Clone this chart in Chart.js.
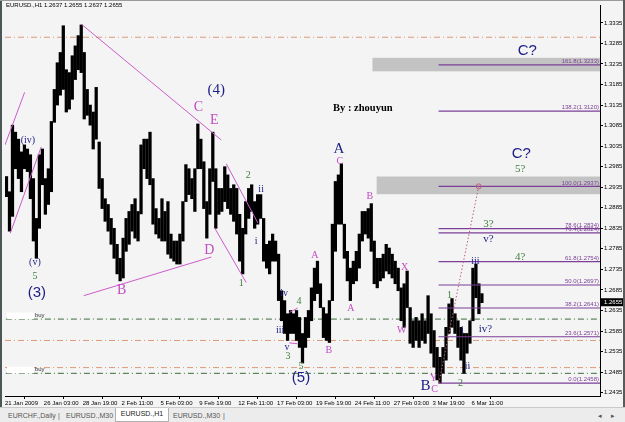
<!DOCTYPE html>
<html><head><meta charset="utf-8">
<script src="https://cdn.jsdelivr.net/npm/chart.js@4.4.1/dist/chart.umd.min.js"></script>
<style>
html,body{margin:0;padding:0;background:#f4f4f4;}
#wrap{position:relative;width:625px;height:422px;overflow:hidden;background:#f4f4f4;}
#c{position:absolute;left:0;top:0;}
#tabs{position:absolute;left:0;top:407px;width:625px;height:15px;background:#ececec;border-top:1px solid #c9c9c9;font:7px "Liberation Sans",Arial,sans-serif;color:#555;}
.tab{position:absolute;top:3px;line-height:10px;white-space:nowrap;}
.act{position:absolute;top:0px;left:115px;width:52px;height:13px;background:#fff;border:1px solid #b0b0b0;border-top:none;text-align:center;line-height:12px;color:#222;}
</style></head>
<body>
<div id="wrap">
<canvas id="c" width="625" height="422"></canvas>
<div id="tabs">
  <span class="tab" style="left:8px">EURCHF.,Daily</span>
  <span class="tab" style="left:58px">|</span>
  <span class="tab" style="left:66px">EURUSD.,M30</span>
  <span class="act">EURUSD.,H1</span>
  <span class="tab" style="left:173px">EURUSD.,M30</span>
  <span class="tab" style="left:223px">|</span>
  <span class="tab" style="left:598px">&#9666;</span>
  <span class="tab" style="left:611px">&#9656;</span>
</div>
</div>
<script>
// ---- data: H1 bars compressed into slots (high / low per slot) ----
const highs = [
1.2961,1.2924,1.3086,1.3069,1.3052,1.3021,1.3038,1.3028,1.3014,1.2956,
1.2859,1.3014,1.3028,1.2956,1.2980,1.3095,1.3173,1.3238,1.3263,1.3328,
1.3221,1.3214,1.3255,1.3279,1.3304,1.3330,1.3263,1.3173,1.3135,1.3118,
1.3178,1.3045,1.2956,1.2907,1.2893,1.2859,1.2835,1.2796,1.2762,1.2811,
1.2859,1.2876,1.2893,1.2907,1.2876,1.3038,1.3052,1.3052,1.3069,1.2956,
1.2883,1.2859,1.2907,1.2876,1.2900,1.2821,1.2804,1.2804,1.2821,1.2900,
1.2990,1.2980,1.2956,1.2980,1.3089,1.3052,1.2997,1.2900,1.2980,1.3069,
1.2980,1.2932,1.2932,1.2985,1.2965,1.2932,1.2941,1.2932,1.2869,1.2835,
1.2900,1.2932,1.2941,1.2900,1.2917,1.2917,1.2859,1.2796,1.2804,1.2821,
1.2804,1.2772,1.2683,1.2659,1.2627,1.2635,1.2627,1.2635,1.2618,1.2579,
1.2618,1.2635,1.2690,1.2738,1.2755,1.2700,1.2642,1.2627,1.2659,1.2845,
1.2949,1.2965,1.2992,1.2845,1.2779,1.2738,1.2755,1.2779,1.2821,1.2876,
1.2876,1.2883,1.2895,1.2804,1.2762,1.2762,1.2772,1.2796,1.2787,1.2772,
1.2755,1.2738,1.2690,1.2700,1.2731,1.2642,1.2610,1.2618,1.2610,1.2627,
1.2610,1.2671,1.2627,1.2586,1.2545,1.2521,1.2545,1.2594,1.2651,1.2664,
1.2627,1.2610,1.2594,1.2579,1.2579,1.2610,1.2738,1.2748,1.2700,1.2676];
const lows = [
1.2912,1.2828,1.2864,1.2980,1.2956,1.2924,1.2980,1.2973,1.2907,1.2804,
1.2762,1.2835,1.2941,1.2869,1.2893,1.2924,1.3093,1.3135,1.3159,1.3173,
1.3118,1.3125,1.3149,1.3197,1.3221,1.3214,1.3101,1.3110,1.3086,1.3028,
1.3052,1.2932,1.2883,1.2852,1.2828,1.2796,1.2762,1.2724,1.2707,1.2714,
1.2779,1.2796,1.2828,1.2811,1.2804,1.2870,1.2980,1.2956,1.2941,1.2845,
1.2821,1.2811,1.2804,1.2804,1.2772,1.2762,1.2755,1.2748,1.2748,1.2804,
1.2900,1.2917,1.2907,1.2876,1.2980,1.2980,1.2883,1.2811,1.2869,1.2949,
1.2835,1.2869,1.2876,1.2900,1.2883,1.2869,1.2852,1.2821,1.2755,1.2724,
1.2821,1.2859,1.2876,1.2835,1.2845,1.2859,1.2755,1.2738,1.2724,1.2755,
1.2755,1.2659,1.2610,1.2579,1.2562,1.2579,1.2579,1.2562,1.2545,1.2507,
1.2545,1.2569,1.2610,1.2659,1.2676,1.2642,1.2569,1.2562,1.2557,1.2659,
1.2779,1.2845,1.2845,1.2762,1.2707,1.2659,1.2700,1.2707,1.2738,1.2804,
1.2821,1.2811,1.2779,1.2700,1.2690,1.2707,1.2714,1.2731,1.2724,1.2714,
1.2700,1.2683,1.2610,1.2594,1.2642,1.2555,1.2545,1.2562,1.2545,1.2562,
1.2555,1.2579,1.2531,1.2497,1.2466,1.2458,1.2482,1.2514,1.2579,1.2594,
1.2579,1.2545,1.2514,1.2482,1.2531,1.2555,1.2610,1.2666,1.2627,1.2654];

const timeLabels = ["21 Jan 2009","26 Jan 03:00","28 Jan 19:00","2 Feb 11:00","5 Feb 03:00","9 Feb 19:00","12 Feb 11:00","17 Feb 03:00","19 Feb 19:00","24 Feb 11:00","27 Feb 03:00","3 Mar 19:00","6 Mar 11:00"];
const timeSlots = [0,13,26,39,52,65,78,91,104,117,130,143,156];
const priceTicks = [1.2435,1.2485,1.2535,1.2585,1.2635,1.2685,1.2735,1.2785,1.2835,1.2885,1.2935,1.2985,1.3035,1.3085,1.3135,1.3185,1.3235,1.3285,1.3335];
const lastPrice = 1.2655;
const titleText = "EURUSD.,H1 1.2637 1.2655 1.2637 1.2655";

// fibonacci expansion
const fibLevels = [161.8,138.2,100.0,78.6,76.4,61.8,50.0,38.2,23.6,0.0];
const fibPrices = [1.3233,1.3120,1.2937,1.2834,1.2824,1.2754,1.2697,1.2641,1.2571,1.2458];
const fibStart = 145, slotMax = 199;

// horizontal dash-dot levels
const orangeLevels = [1.3300,1.2562,1.2496];
const buyLevels = [1.2614,1.2482];

// grey zones
const zoneFrom = [122.9,124.3];
const zoneTop = [1.3250,1.2961];
const zoneBottom = [1.3217,1.2918];

// trend lines [[slot, price],[slot, price]]
const trendLines = [
 [[25.67,1.3331],[72.33,1.3050]],
 [[26.33,1.2671],[69,1.2765]],
 [[0,1.3038],[6.57,1.3166]],
 [[1.77,1.2823],[12.1,1.3033]],
 [[74,1.2992],[84.57,1.2848]],
 [[70.1,1.2836],[80.67,1.2703]],
 [[95.1,1.2630],[97.9,1.2641]],
 [[95.1,1.2556],[97.9,1.2554]]
];
const targetLine = [[145.1,1.2458],[158.43,1.2937]];

// wave labels [text, slot, price, style]
const waveLabels = [
 ["(iv)",7.67,1.3048,"ns"],["(v)",10,1.2751,"ns"],["5",10,1.2717,"gs"],["(3)",10.67,1.2678,"nb"],
 ["B",39,1.2685,"mb"],["C",64.67,1.3130,"mb"],["E",70,1.3098,"mb"],["(4)",70.67,1.3171,"nbs"],
 ["D",68.33,1.2782,"mb"],["2",81.33,1.2965,"gs"],["ii",85.67,1.2929,"ns"],["i",84,1.2804,"ns"],
 ["1",79,1.2700,"gs"],["iv",93.33,1.2676,"ns"],["4",98.33,1.2656,"gs"],["iii",92,1.2586,"ns"],
 ["v",94.33,1.2545,"ns"],["3",94.67,1.2524,"gs"],["5",99,1.2499,"gs"],["(5)",99,1.2470,"nb"],
 ["A",103.67,1.2770,"ms"],["A",111.67,1.3028,"nbs"],["C",112,1.2999,"ms"],["B",122,1.2912,"ms"],
 ["A",115.67,1.2639,"ms"],["B",108.33,1.2538,"ms"],["X",133.67,1.2741,"ms"],["W",132.67,1.2586,"ms"],
 ["Y",143.33,1.2470,"ms"],["C",143.67,1.2444,"ms"],["B",140.67,1.2451,"nbs"],["1",148.67,1.2671,"gs"],
 ["i",153,1.2586,"ns"],["ii",154.67,1.2499,"ns"],["2",152.33,1.2458,"gs"],["iii",157.33,1.2755,"ns"],
 ["iv?",160.67,1.2589,"nq"],["v?",161.67,1.2808,"nq"],["3?",161.67,1.2845,"gq"],["4?",172.33,1.2765,"gq"],
 ["5?",172.33,1.2978,"gq"],["C?",172.67,1.3016,"nb"],["C?",174.67,1.3267,"nb"],["By : zhouyun",119.67,1.3127,"sig"]
];
const labelStyles = {
 ns:['#1c1c86','10px "Liberation Serif"'],
 nq:['#1c1c86','11px "Liberation Serif"'],
 nb:['#1c1c86','15px "Liberation Sans"'],
 nbs:['#1c1c86','15px "Liberation Serif"'],
 mb:['#c24cc2','14px "Liberation Serif"'],
 ms:['#c24cc2','10px "Liberation Serif"'],
 gs:['#3f7f3f','10px "Liberation Serif"'],
 gq:['#3f7f3f','11px "Liberation Serif"'],
 sig:['#000','bold 10.5px "Liberation Serif"']
};

// ---- datasets ----
const datasets = [];
datasets.push({type:'bar', data: highs.map((h,i)=>({x:i+0.5, y:[lows[i],h]})),
  backgroundColor:'#000', borderWidth:0, barThickness:2.6, grouped:false, order:5});
orangeLevels.forEach(p=>datasets.push({type:'line', data:[{x:0,y:p},{x:slotMax,y:p}],
  borderColor:'#dc9a78', borderWidth:1, borderDash:[6,3,1,3], pointRadius:0, order:7}));
buyLevels.forEach(p=>datasets.push({type:'line', data:[{x:0.3,y:p},{x:slotMax,y:p}],
  borderColor:'#3c6b3c', borderWidth:1, borderDash:[6,3,1,3], pointRadius:0, order:7}));
fibPrices.forEach(p=>datasets.push({type:'line', data:[{x:fibStart,y:p},{x:slotMax,y:p}],
  borderColor:'#7b3f96', borderWidth:1.2, pointRadius:0, order:4}));
trendLines.forEach(l=>datasets.push({type:'line', data:l.map(q=>({x:q[0],y:q[1]})),
  borderColor:'#cc5ccc', borderWidth:1, pointRadius:0, order:1}));
datasets.push({type:'line', data:targetLine.map(q=>({x:q[0],y:q[1]})),
  borderColor:'#c0607a', borderWidth:1, borderDash:[1.5,2], pointRadius:[0,2.5],
  pointBorderColor:'#c0607a', pointBackgroundColor:'rgba(0,0,0,0)', pointBorderWidth:1, order:0});

const FONT = '"Liberation Sans", Arial, sans-serif';

const annoPlugin = {
  id:'anno',
  beforeDraw(chart){
    const c = chart.ctx; c.save(); c.fillStyle='#f4f4f4'; c.fillRect(0,0,chart.width,chart.height); c.restore();
  },
  beforeDatasetsDraw(chart){
    const c = chart.ctx, x = chart.scales.x, y = chart.scales.y;
    c.save(); c.fillStyle = '#c3c3c3';
    zoneFrom.forEach((f,i)=>{
      const x0=x.getPixelForValue(f), x1=x.getPixelForValue(slotMax);
      const y0=y.getPixelForValue(zoneTop[i]), y1=y.getPixelForValue(zoneBottom[i]);
      c.fillRect(x0,y0,x1-x0,y1-y0);
    });
    c.restore();
  },
  afterDatasetsDraw(chart){
    const c = chart.ctx, x = chart.scales.x, y = chart.scales.y;
    c.save();
    buyLevels.forEach(p=>{
      const yy = y.getPixelForValue(p);
      c.fillStyle='#ffffff';
      c.fillRect(x.getPixelForValue(0.7), yy-6.5, x.getPixelForValue(9.7)-x.getPixelForValue(0.7), 6.5);
      c.fillStyle='#333'; c.font='6px '+FONT; c.textAlign='left'; c.textBaseline='bottom';
      c.fillText('buy', x.getPixelForValue(10), yy-0.5);
    });
    c.font='6px '+FONT; c.fillStyle='#7b3f96'; c.textAlign='right'; c.textBaseline='bottom';
    fibPrices.forEach((p,i)=>{
      c.fillText(fibLevels[i].toFixed(1)+'('+p.toFixed(4)+')', x.getPixelForValue(slotMax)-1, y.getPixelForValue(p)-0.5);
    });
    c.textAlign='center'; c.textBaseline='middle';
    waveLabels.forEach(l=>{
      const s = labelStyles[l[3]];
      c.fillStyle=s[0]; c.font=s[1];
      c.fillText(l[0], x.getPixelForValue(l[1]), y.getPixelForValue(l[2]));
    });
    c.restore();
  },
  afterDraw(chart){
    const c = chart.ctx, y = chart.scales.y, ca = chart.chartArea;
    c.save();
    c.font='6px '+FONT; c.fillStyle='#000'; c.textAlign='left'; c.textBaseline='middle';
    c.fillText(titleText, 6, 5.5);
    const py = y.getPixelForValue(lastPrice);
    c.fillStyle='#000'; c.fillRect(ca.right+1, py-4, 23, 8);
    c.fillStyle='#fff'; c.font='6px '+FONT; c.fillText(lastPrice.toFixed(4), ca.right+4, py+0.5);
    c.fillStyle='#4c5656'; c.fillRect(0,0,2,chart.height);
    c.fillStyle='#9a9a9a'; c.fillRect(0,0,chart.width,1);
    c.fillStyle='#5a5a5a'; c.fillRect(chart.width-2,0,2,chart.height);
    c.restore();
  }
};

new Chart(document.getElementById('c'), {
  type:'bar',
  data:{datasets},
  plugins:[annoPlugin],
  options:{
    responsive:false, animation:false, events:[],
    layout:{padding:{left:3, top:2, right:0, bottom:0}},
    plugins:{legend:{display:false}, tooltip:{enabled:false}},
    scales:{
      x:{type:'linear', min:0, max:slotMax, offset:false,
        grid:{drawOnChartArea:false, drawTicks:true, tickLength:3, color:'#000'},
        border:{color:'#000', width:1},
        ticks:{autoSkip:false, maxRotation:0, minRotation:0, align:'start', padding:1,
          font:{size:6, family:FONT}, color:'#000', callback:(v,i)=>timeLabels[i]},
        afterBuildTicks:s=>{ s.ticks = timeSlots.map(v=>({value:v})); },
        afterFit:s=>{ s.height = 26; }
      },
      y:{type:'linear', position:'right', min:1.24268, max:1.33785,
        grid:{drawOnChartArea:false, drawTicks:true, tickLength:3, color:'#000'},
        border:{color:'#000', width:1},
        ticks:{padding:1, font:{size:6, family:FONT}, color:'#000', callback:v=>Number(v).toFixed(4)},
        afterBuildTicks:s=>{ s.ticks = priceTicks.map(v=>({value:v})); },
        afterFit:s=>{ s.width = 25; }
      }
    }
  }
});
</script>
</body></html>
